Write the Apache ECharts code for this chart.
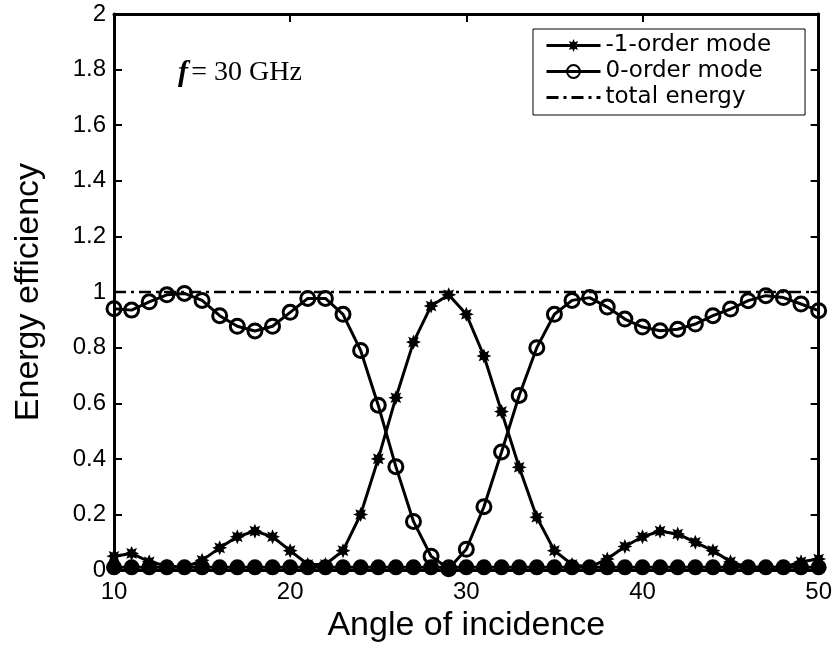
<!DOCTYPE html>
<html>
<head>
<meta charset="utf-8">
<script src="https://cdn.jsdelivr.net/npm/echarts@6/dist/echarts.min.js"></script>
<style>
  html, body { margin: 0; padding: 0; background: #fff; }
  #chart { width: 835px; height: 648px; }
</style>
</head>
<body>
<div id="chart"></div>
<script>
// angle of incidence (deg)
const angles = [10, 11, 12, 13, 14, 15, 16, 17, 18, 19, 20, 21, 22, 23, 24, 25, 26, 27, 28, 29, 30,
  31, 32, 33, 34, 35, 36, 37, 38, 39, 40, 41, 42, 43, 44, 45, 46, 47, 48, 49, 50]

const minusOneOrder = [0.05, 0.06, 0.03, 0.015, 0.01, 0.035, 0.08, 0.12, 0.14, 0.12, 0.07,
  0.02, 0.02, 0.07, 0.2, 0.4, 0.62, 0.82, 0.95, 0.99, 0.92,
  0.77, 0.57, 0.37, 0.19, 0.07, 0.02, 0.01, 0.04, 0.085, 0.12,
  0.14, 0.13, 0.1, 0.07, 0.03, 0.01, 0.01, 0.01, 0.03, 0.04]

const zeroOrder = [0.94, 0.935, 0.965, 0.99, 0.995, 0.97, 0.915, 0.877, 0.86, 0.877, 0.927,
  0.977, 0.977, 0.92, 0.79, 0.593, 0.372, 0.175, 0.05, 0.005, 0.075,
  0.228, 0.425, 0.628, 0.8, 0.92, 0.97, 0.98, 0.946, 0.903, 0.874,
  0.861, 0.866, 0.885, 0.915, 0.939, 0.969, 0.987, 0.98, 0.957, 0.933]

const totalEnergy = [1, 1, 1, 1, 1, 1, 1, 1, 1, 1, 1,
  1, 1, 1, 1, 1, 1, 1, 1, 1, 1,
  1, 1, 1, 1, 1, 1, 1, 1, 1, 1,
  1, 1, 1, 1, 1, 1, 1, 1, 1, 1]

// unlabelled curve lying on the bottom of the plot
const otherOrder = [0.01, 0.01, 0.01, 0.01, 0.01, 0.01, 0.01, 0.01, 0.01, 0.01, 0.01,
  0.01, 0.01, 0.01, 0.01, 0.01, 0.01, 0.01, 0.01, 0.01, 0.01,
  0.01, 0.01, 0.01, 0.01, 0.01, 0.01, 0.01, 0.01, 0.01, 0.01,
  0.01, 0.01, 0.01, 0.01, 0.01, 0.01, 0.01, 0.01, 0.01, 0.01]

const legendNames = ['-1-order mode', '0-order mode', 'total energy']

const STAR = 'path://M20,10 L15.08,12.1 L17.07,17.07 L12.1,15.08 L10,20 L7.9,15.08 L2.93,17.07 L4.92,12.1 L0,10 L4.92,7.9 L2.93,2.93 L7.9,4.92 L10,0 L12.1,4.92 L17.07,2.93 L15.08,7.9 Z'
const FONT = '"Liberation Sans", Arial, sans-serif'
const SERIF = '"Liberation Serif", "Times New Roman", serif'

const pair = (ys) => angles.map((x, i) => [x, ys[i]])

const chart = echarts.init(document.getElementById('chart'), null, { renderer: 'canvas' })

const axisLine = { show: true, onZero: false, lineStyle: { color: '#000', width: 3 } }
const tickIn = { show: true, inside: true, length: 8, lineStyle: { color: '#000', width: 2 } }

chart.setOption({
  animation: false,
  backgroundColor: '#fff',
  grid: { left: 114, right: 13, top: 14, bottom: 76 },
  legend: {
    data: [
      { name: legendNames[0] },
      { name: legendNames[1] },
      { name: legendNames[2], itemStyle: { opacity: 0 } }
    ],
    orient: 'vertical',
    left: 533,
    top: 29,
    itemGap: 3,
    itemWidth: 54,
    itemHeight: 16,
    padding: [5, 34, 6, 12],
    backgroundColor: '#fff',
    borderColor: '#000',
    borderWidth: 1,
    borderRadius: 0,
    lineStyle: { width: 3 },
    textStyle: { fontFamily: '"DejaVu Sans", sans-serif', fontSize: 23, lineHeight: 20, color: '#000' }
  },
  graphic: [{
    type: 'text',
    left: 178,
    top: 58,
    style: {
      text: '{f|f} {n|= 30 GHz}',
      rich: {
        f: { fontFamily: SERIF, fontStyle: 'italic', fontWeight: 'bold', fontSize: 30, fill: '#000' },
        n: { fontFamily: SERIF, fontSize: 28, fill: '#000' }
      }
    }
  }],
  xAxis: [{
    type: 'value',
    min: 10,
    max: 50,
    interval: 10,
    name: 'Angle of incidence',
    nameLocation: 'middle',
    nameGap: 30,
    nameTextStyle: { fontFamily: FONT, fontSize: 34, color: '#000' },
    axisLine,
    axisTick: tickIn,
    axisLabel: { fontFamily: FONT, fontSize: 24, color: '#000', margin: 10 },
    splitLine: { show: false }
  }, {
    type: 'value',
    position: 'top',
    min: 10,
    max: 50,
    interval: 10,
    axisLine,
    axisTick: tickIn,
    axisLabel: { show: false },
    splitLine: { show: false }
  }],
  yAxis: [{
    type: 'value',
    min: 0,
    max: 2,
    interval: 0.2,
    name: 'Energy efficiency',
    nameLocation: 'middle',
    nameGap: 68,
    nameTextStyle: { fontFamily: FONT, fontSize: 34, color: '#000' },
    axisLine,
    axisTick: tickIn,
    axisLabel: {
      fontFamily: FONT,
      fontSize: 24,
      color: '#000',
      margin: 8,
      formatter: (v) => String(Math.round(v * 10) / 10)
    },
    splitLine: { show: false }
  }, {
    type: 'value',
    position: 'right',
    min: 0,
    max: 2,
    interval: 0.2,
    axisLine,
    axisTick: tickIn,
    axisLabel: { show: false },
    splitLine: { show: false }
  }],
  series: [
    {
      type: 'line',
      name: 'other',
      data: pair(otherOrder),
      symbol: 'circle',
      symbolSize: 16,
      itemStyle: { color: '#000' },
      lineStyle: { color: '#000', width: 3 },
      z: 2
    },
    {
      type: 'line',
      name: legendNames[1],
      data: pair(zeroOrder),
      symbol: 'circle',
      symbolSize: 14,
      itemStyle: { color: 'rgba(0,0,0,0)', borderColor: '#000', borderWidth: 3 },
      lineStyle: { color: '#000', width: 3 },
      z: 3
    },
    {
      type: 'line',
      name: legendNames[0],
      data: pair(minusOneOrder),
      symbol: STAR,
      symbolSize: 15,
      itemStyle: { color: '#000' },
      lineStyle: { color: '#000', width: 3 },
      z: 4
    },
    {
      type: 'line',
      name: legendNames[2],
      data: pair(totalEnergy),
      symbol: 'none',
      itemStyle: { color: '#000' },
      lineStyle: { color: '#000', width: 2.5, type: [12, 5, 3, 5] },
      z: 5
    }
  ]
})
</script>
</body>
</html>
